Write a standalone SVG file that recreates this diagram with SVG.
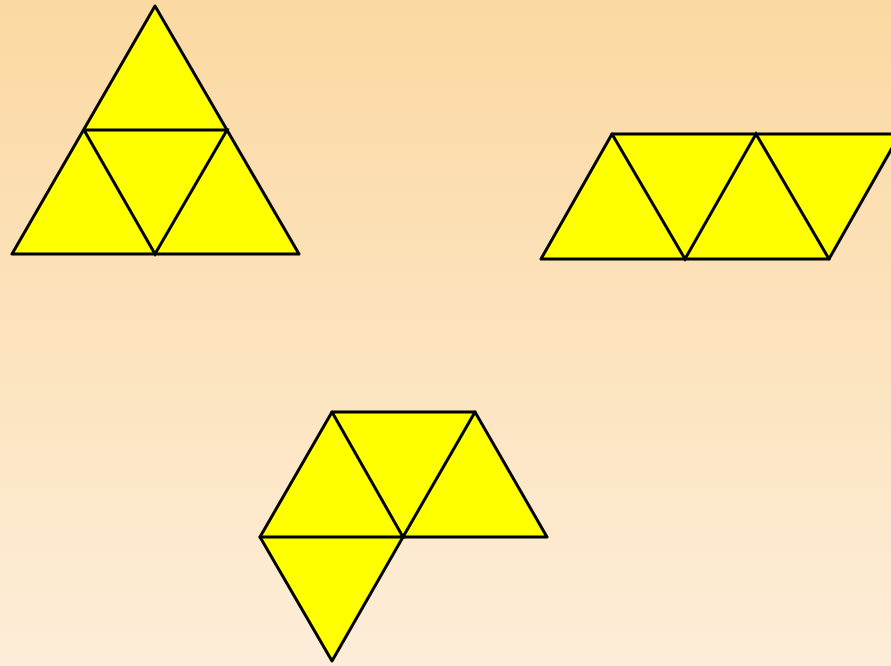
<svg xmlns="http://www.w3.org/2000/svg" width="891" height="666" viewBox="0 0 891 666">
<defs>
<linearGradient id="bg" x1="0" y1="0" x2="0" y2="1">
<stop offset="0" stop-color="#FBD9A2"/>
<stop offset="1" stop-color="#FDEDD8"/>
</linearGradient>
</defs>
<style>
.f{fill:#FFFF00;stroke:#000;stroke-width:3;stroke-linejoin:round}
.l{fill:none;stroke:#000;stroke-width:3;stroke-linecap:round}
</style>
<rect width="891" height="666" fill="url(#bg)"/>
<g id="net1">
<polygon class="f" points="155,6 12,254 299,254"/>
<polyline class="l" points="84,130 227,130 155,254 84,130"/>
</g>
<g id="net2">
<polygon class="f" points="612,134 900,134 829,259 541,259"/>
<polyline class="l" points="612,134 685,259 756,134 829,259"/>
</g>
<g id="net3">
<polygon class="f" points="332,412 475,412 547,537 403,537 332,661 260,537"/>
<polyline class="l" points="260,537 403,537 332,412"/>
<line class="l" x1="403" y1="537" x2="475" y2="412"/>
</g>
</svg>
